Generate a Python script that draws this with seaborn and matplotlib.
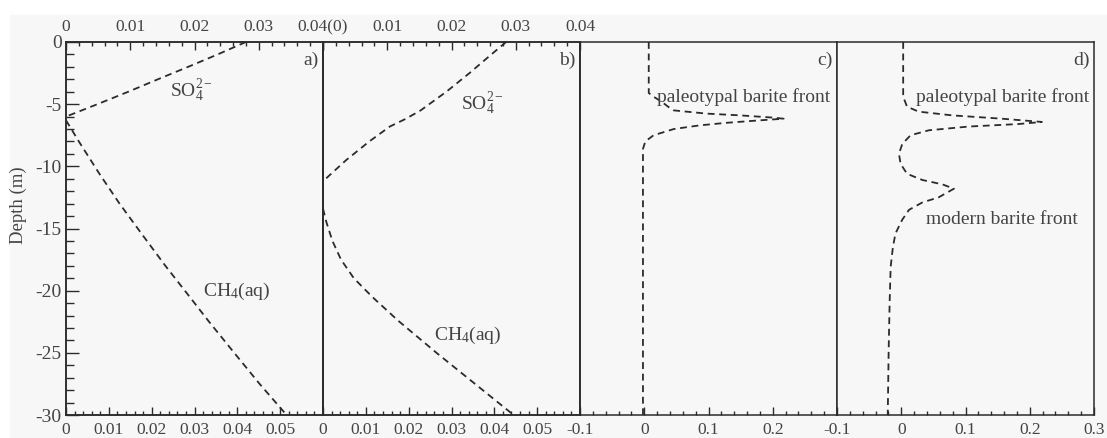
import seaborn as sns
import matplotlib.pyplot as plt
from matplotlib.ticker import MultipleLocator
from matplotlib.patches import Rectangle

# panel a: SO4 on top axis, CH4 on bottom axis
a_so4_depth = [0, -1, -2, -3, -4, -5, -6.0]
a_so4 = [0.028, 0.0236, 0.019, 0.0143, 0.0097, 0.0049, 0.0]
a_ch4_depth = [-6.3, -8, -10.6, -13, -15.4, -18, -20.2, -22.5, -24.8, -27.5, -30]
a_ch4 = [0, 0.003, 0.0078, 0.0125, 0.0176, 0.0232, 0.0282, 0.0334, 0.0388, 0.0452, 0.0515]

# panel b
b_so4_depth = [0, -1, -2.5, -4, -5.5, -6.2, -6.8, -8, -9.5, -11.2]
b_so4 = [0.0285, 0.0262, 0.0228, 0.0192, 0.0152, 0.0128, 0.0104, 0.0072, 0.0036, 0.0]
b_ch4_depth = [-13.4, -14.5, -16, -17.5, -19, -20.5, -22.4, -25, -27.5, -30]
b_ch4 = [0, 0.0008, 0.0022, 0.0042, 0.0072, 0.0115, 0.0175, 0.0265, 0.0355, 0.0445]

# panel c: barite
c_depth = [0, -4.1, -4.4, -4.8, -5.2, -5.5, -5.76, -5.9, -6.08, -6.17, -6.3, -6.5, -6.7,
           -7.0, -7.5, -8.0, -8.6, -10, -20, -30]
c_barite = [0.007, 0.007, 0.0145, 0.027, 0.037, 0.046, 0.097, 0.149, 0.2, 0.217, 0.18, 0.128,
            0.087, 0.046, 0.0145, 0.0016, -0.002, -0.002, -0.002, -0.002]

# panel d: barite
d_depth = [0, -4.4, -5.2, -5.6, -5.9, -6.17, -6.43, -6.6, -6.8, -7.1, -7.5, -8.2, -9.0, -9.8,
           -10.6, -11.1, -11.45, -11.8, -12.5, -12.9, -13.5, -14.3, -15.4, -16.5, -18.1,
           -20.8, -24.8, -30]
d_barite = [0.003, 0.003, 0.009, 0.027, 0.079, 0.157, 0.219, 0.182, 0.105, 0.043, 0.0145,
            0.0016, -0.0036, -0.001, 0.009, 0.033, 0.064, 0.082, 0.058, 0.033, 0.012, 0.0015,
            -0.009, -0.013, -0.0165, -0.018, -0.0196, -0.021]

depth_ticks = [0, -5, -10, -15, -20, -25, -30]
depth_labels = ['0', '-5', '-10', '-15', '-20', '-25', '-30']
conc_ticks = [0, 0.01, 0.02, 0.03, 0.04, 0.05]
conc_labels = ['0', '0.01', '0.02', '0.03', '0.04', '0.05']
a_top_labels = ['0', '0.01', '0.02', '0.03', '0.04(0)']
b_top_labels = ['', '0.01', '0.02', '0.03', '0.04']
bar_ticks = [-0.1, 0, 0.1, 0.2, 0.3]
c_bar_labels = ['-0.1', '0', '0.1', '0.2', '']
d_bar_labels = ['-0.1', '0', '0.1', '0.2', '0.3']

sns.set_theme(style="ticks")
plt.rcParams['font.family'] = ['Liberation Serif', 'DejaVu Serif']
plt.rcParams['mathtext.fontset'] = 'custom'
plt.rcParams['mathtext.rm'] = 'Liberation Serif'
plt.rcParams['mathtext.it'] = 'Liberation Serif:italic'

bg = '#f7f7f7'
ink = '#2b2b2b'
txt = '#444444'
dash = (0, (3.8, 2.6))
tick_fs = 12.5
note_fs = 14

fig = plt.figure(figsize=(11.07, 4.38), dpi=100)
fig.add_artist(Rectangle((10 / 1107, 0), 1, 423 / 438, transform=fig.transFigure,
                         color=bg, zorder=-10))

left = 66 / 1107
pw = (1094 - 66) / 4 / 1107
bottom = 23 / 438
height = (415 - 42) / 438

axes = []
for i in range(4):
    ax = fig.add_axes([left + i * pw, bottom, pw, height])
    ax.set_facecolor(bg)
    ax.set_ylim(-30, 0)
    for s in ax.spines.values():
        s.set_color(ink)
        s.set_linewidth(1.1)
    ax.tick_params(axis='x', which='both', direction='in', top=False, colors=ink,
                   labelcolor=txt, labelsize=tick_fs, pad=5)
    ax.tick_params(axis='x', which='major', length=6, width=1)
    ax.tick_params(axis='x', which='minor', length=3, width=1)
    axes.append(ax)

ax_a, ax_b, ax_c, ax_d = axes

# depth axis only on panel a
ax_a.set_yticks(depth_ticks, labels=depth_labels)
ax_a.yaxis.set_minor_locator(MultipleLocator(1))
ax_a.tick_params(axis='y', which='both', direction='in', colors=ink, labelcolor=txt,
                 labelsize=14, pad=3)
ax_a.tick_params(axis='y', which='major', length=9, width=1)
ax_a.tick_params(axis='y', which='minor', length=6, width=1)
for ax in (ax_b, ax_c, ax_d):
    ax.tick_params(axis='y', which='both', left=False, labelleft=False)

fig.text(18 / 1107, 1 - 205 / 438, 'Depth (m)', rotation=90, ha='center', va='center',
         fontsize=13.5, color=txt)

# CH4 on bottom axes, SO4 on top twin axes
tops = []
for ax, depth, ch4, so4_depth, so4, labels in (
        (ax_a, a_ch4_depth, a_ch4, a_so4_depth, a_so4, a_top_labels),
        (ax_b, b_ch4_depth, b_ch4, b_so4_depth, b_so4, b_top_labels)):
    sns.lineplot(x=ch4, y=depth, sort=False, estimator=None, ax=ax, color=ink,
                 linestyle=dash, lw=1.3)
    ax.set_xlim(0, 0.06)
    ax.set_xticks(conc_ticks, labels=conc_labels)
    ax.xaxis.set_minor_locator(MultipleLocator(0.002))

    top = ax.twiny()
    sns.lineplot(x=so4, y=so4_depth, sort=False, estimator=None, ax=top, color=ink,
                 linestyle=dash, lw=1.3)
    top.set_xlim(0, 0.04)
    top.set_ylim(-30, 0)
    top.set_xticks([0, 0.01, 0.02, 0.03, 0.04], labels=labels)
    top.xaxis.set_minor_locator(MultipleLocator(0.002))
    top.tick_params(axis='x', which='both', direction='in', bottom=False, top=True,
                    colors=ink, labelcolor=txt, labelsize=tick_fs, pad=5)
    top.tick_params(axis='x', which='major', length=6, width=1)
    top.tick_params(axis='x', which='minor', length=3, width=1)
    top.tick_params(axis='y', which='both', left=False, right=False,
                    labelleft=False, labelright=False)
    for s in top.spines.values():
        s.set_color(ink)
        s.set_linewidth(1.1)
    top.set_xlabel('')
    top.set_ylabel('')
    tops.append(top)

for ax, depth, barite, labels in ((ax_c, c_depth, c_barite, c_bar_labels),
                                  (ax_d, d_depth, d_barite, d_bar_labels)):
    sns.lineplot(x=barite, y=depth, sort=False, estimator=None, ax=ax, color=ink,
                 linestyle=dash, lw=1.3)
    ax.set_xlim(-0.1, 0.3)
    ax.set_xticks(bar_ticks, labels=labels)
    ax.xaxis.set_minor_locator(MultipleLocator(0.02))

for ax in axes:
    ax.set_xlabel('')
    ax.set_ylabel('')
    ax.set_ylim(-30, 0)

# panel letters
for ax, letter in zip(axes, ['a)', 'b)', 'c)', 'd)']):
    ax.text(0.982, 0.952, letter, transform=ax.transAxes, ha='right', va='center',
            fontsize=note_fs, color=txt)

tops[0].text(0.0162, -3.9, r'SO$_4^{2-}$', ha='left', va='center', fontsize=note_fs, color=txt)
ax_a.text(0.032, -20.1, r'CH$_4$(aq)', ha='left', va='center', fontsize=note_fs, color=txt)
tops[1].text(0.0215, -5.0, r'SO$_4^{2-}$', ha='left', va='center', fontsize=note_fs, color=txt)
ax_b.text(0.026, -23.6, r'CH$_4$(aq)', ha='left', va='center', fontsize=note_fs, color=txt)
ax_c.text(0.02, -4.4, 'paleotypal barite front', ha='left', va='center', fontsize=note_fs,
          color=txt)
ax_d.text(0.023, -4.4, 'paleotypal barite front', ha='left', va='center', fontsize=note_fs,
          color=txt)
ax_d.text(0.0385, -14.3, 'modern barite front', ha='left', va='center', fontsize=note_fs,
          color=txt)

fig.savefig('out.png', dpi=100, facecolor='white')
